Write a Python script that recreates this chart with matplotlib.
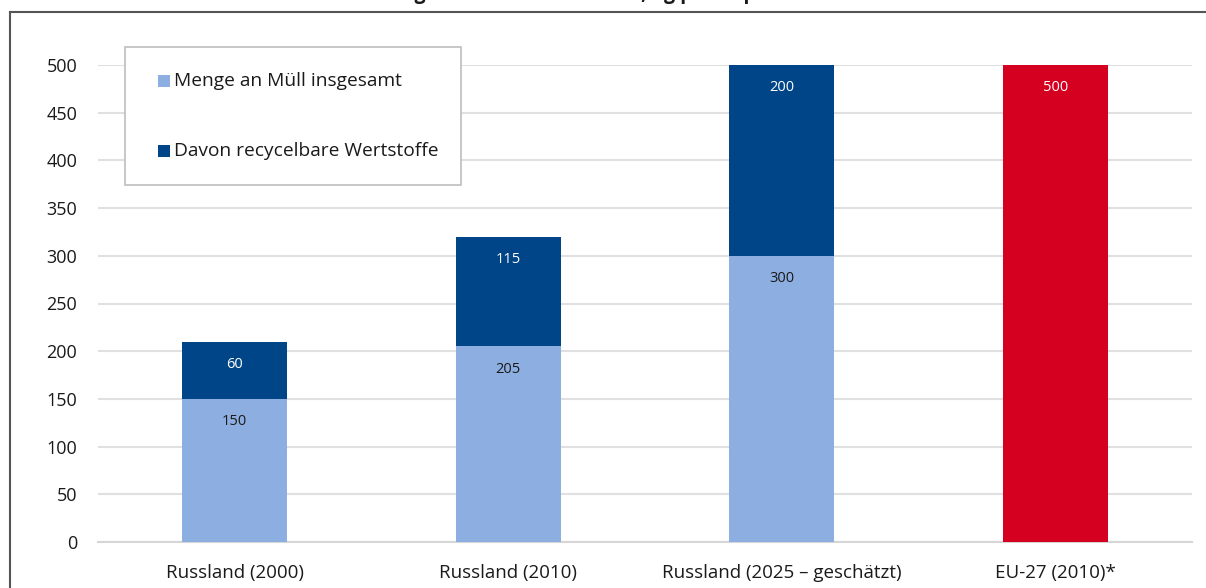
import matplotlib
matplotlib.use("Agg")
import matplotlib.pyplot as plt
from matplotlib.patches import Rectangle
from matplotlib.lines import Line2D

plt.rcParams['font.family'] = ['Open Sans', 'DejaVu Sans']

# Daten (kg pro Kopf)
kategorien = ["Russland (2000)", "Russland (2010)", "Russland (2025 – geschätzt)", "EU-27 (2010)*"]
menge_gesamt = [150, 205, 300, 500]
recycelbar = [60, 115, 200, 0]
serien = ["Menge an Müll insgesamt", "Davon recycelbare Wertstoffe"]
yticks = [0, 50, 100, 150, 200, 250, 300, 350, 400, 450, 500]

hell = "#8DAEE0"
dunkel = "#004587"
rot = "#D5001F"
farben_gesamt = [hell, hell, hell, rot]

W, H = 1206, 588
fig = plt.figure(figsize=(W / 100, H / 100), dpi=100)
ax = fig.add_axes([98 / W, (H - 542) / H, 1094 / W, 477 / H])

x = range(len(kategorien))
breite = 0.385
balken1 = ax.bar(x, menge_gesamt, breite, color=farben_gesamt, zorder=3)
balken2 = ax.bar(x, recycelbar, breite, bottom=menge_gesamt, color=dunkel, zorder=3)

# Werte-Beschriftungen
for i in x:
    unten = menge_gesamt[i]
    farbe = "white" if i == 3 else "#1a1a1a"
    ax.annotate(str(unten), (i, unten), xytext=(0, -16.5), textcoords="offset points",
                ha="center", va="center", fontsize=10.5, color=farbe, zorder=4)
    if recycelbar[i] > 0:
        oben = unten + recycelbar[i]
        ax.annotate(str(recycelbar[i]), (i, oben), xytext=(0, -16.5), textcoords="offset points",
                    ha="center", va="center", fontsize=10.5, color="white", zorder=4)

ax.set_xlim(-0.5, 3.5)
ax.set_ylim(0, 500)
ax.set_yticks(yticks)
ax.set_xticks(list(x))
ax.set_xticklabels(kategorien, fontsize=13.5, color="#1a1a1a")
ax.tick_params(axis="y", labelsize=13, labelcolor="#1a1a1a", length=0, pad=15)
ax.tick_params(axis="x", length=0, pad=16)
ax.yaxis.grid(True, color="#e0e0e0", linewidth=1.5, zorder=0)
ax.set_axisbelow(True)
for s in ["top", "right", "left"]:
    ax.spines[s].set_visible(False)
ax.spines["bottom"].set_color("#d6d6d6")
ax.spines["bottom"].set_linewidth(1.5)

# Legende (Kasten)
fig.patches.append(Rectangle((125 / W, (H - 185) / H), 336 / W, 138 / H, transform=fig.transFigure,
                             facecolor="white", edgecolor="#bdbdbd", linewidth=1.2, zorder=5))
for j, (name, farbe) in enumerate(zip(serien, [hell, dunkel])):
    yc = 81 + j * 70
    fig.patches.append(Rectangle((158 / W, (H - yc - 6) / H), 12 / W, 12 / H, transform=fig.transFigure,
                                 facecolor=farbe, edgecolor="none", zorder=6))
    fig.text(174 / W, (H - yc) / H, name, fontsize=13.8, va="center", ha="left", color="#1a1a1a", zorder=6)

# Rahmen
fig.add_artist(Line2D([10 / W, 10 / W], [0, (H - 12) / H], transform=fig.transFigure, color="#555555", linewidth=1.5))
fig.add_artist(Line2D([10 / W, 1], [(H - 12) / H, (H - 12) / H], transform=fig.transFigure, color="#555555", linewidth=1.5))

# Titel (oben abgeschnitten, wie im Original)
fig.text(306 / W, 1 + 1 / H, "Entwicklung des Müllaufkommens, kg pro Kopf", fontsize=14,
         fontweight="bold", ha="left", va="baseline", color="#1a1a1a")

fig.savefig("out.png", dpi=100)
